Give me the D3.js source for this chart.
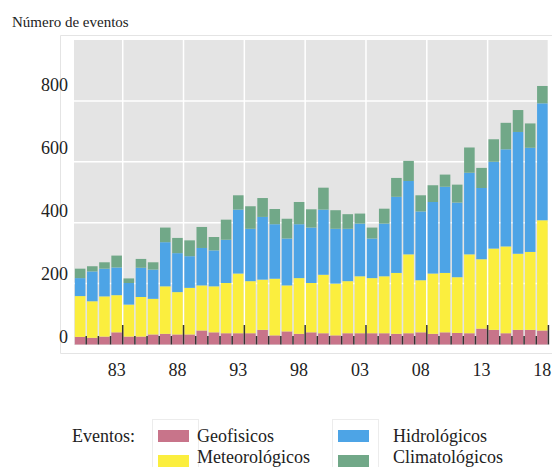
<!DOCTYPE html>
<html>
<head>
<meta charset="utf-8">
<script src="https://cdn.jsdelivr.net/npm/d3@7"></script>
<style>
  body { margin: 0; background: #fff; }
  text { font-family: "Liberation Serif", "DejaVu Serif", serif; fill: #222; }
</style>
</head>
<body>
<svg width="552" height="467"></svg>
<script>
// years on the x axis
var years = d3.range(1980, 2019);

// events per year, by type
var geofisicos = [25, 22, 26, 40, 26, 26, 33, 35, 33, 33,
                  46, 40, 37, 37, 37, 48, 30, 43, 35, 40,
                  37, 30, 37, 37, 37, 37, 35, 37, 40, 35,
                  40, 38, 37, 52, 48, 37, 48, 48, 46];
var meteorologicos = [134, 120, 132, 122, 105, 130, 117, 156, 139, 153,
                      148, 151, 165, 196, 171, 165, 186, 151, 183, 162,
                      192, 170, 171, 187, 181, 187, 200, 259, 171, 198,
                      195, 183, 259, 228, 267, 285, 250, 256, 362];
var hidrologicos = [59, 98, 91, 91, 71, 96, 96, 145, 128, 104,
                    123, 118, 142, 210, 172, 206, 179, 154, 177, 182,
                    214, 180, 172, 173, 130, 173, 250, 241, 226, 235,
                    283, 245, 268, 234, 285, 319, 400, 342, 384];
var climatologicos = [31, 17, 21, 39, 15, 29, 24, 48, 50, 52,
                      69, 44, 66, 47, 74, 62, 50, 65, 73, 60,
                      72, 61, 48, 33, 36, 49, 62, 66, 53, 55,
                      40, 59, 83, 66, 74, 87, 72, 80, 57];

var yTicks = [0, 200, 400, 600, 800];
var xTickYears = [1983, 1988, 1993, 1998, 2003, 2008, 2013, 2018];

var keys = ["geo", "met", "hid", "cli"];
var names = {geo: "Geofisicos", met: "Meteorológicos", hid: "Hidrológicos", cli: "Climatológicos"};
var colors = {geo: "#c8748a", met: "#fbee3e", hid: "#4da4e6", cli: "#71a888"};

var rows = years.map(function(y, i) {
  return {year: y, geo: geofisicos[i], met: meteorologicos[i], hid: hidrologicos[i], cli: climatologicos[i]};
});

var svg = d3.select("svg");

// panel bounds (note: "top" is taken by window.top)
var pLeft = 74, pRight = 549, pTop = 40, pBottom = 345;

var x = d3.scaleBand().domain(years).range([pLeft, 548.5]).paddingInner(0.13).paddingOuter(0.07);
var y = d3.scaleLinear().domain([0, 1000]).range([344.5, pTop]);
// the tick labels in the picture sit a bit above their grid lines
var yLab = d3.scaleLinear().domain([0, 800]).range([337, 85]);

// light outer frame
svg.append("path")
    .attr("d", "M552,35.5H60.5V353.5H552")
    .style("fill", "none")
    .style("stroke", "#e4e4e4");

svg.append("rect")
    .attr("x", pLeft).attr("y", pTop)
    .attr("width", pRight - pLeft).attr("height", pBottom - pTop)
    .style("fill", "#e4e4e4");

// grid
svg.selectAll(".hgrid").data(yTicks.slice(1)).enter().append("line")
    .attr("x1", pLeft).attr("x2", pRight)
    .attr("y1", function(d) {return y(d);})
    .attr("y2", function(d) {return y(d);})
    .style("stroke", "#fff").style("stroke-width", 1.5);

var gap = x.step() - x.bandwidth();
svg.selectAll(".vgrid").data(xTickYears).enter().append("line")
    .attr("x1", function(d) {return x(d) + x.bandwidth() + gap / 2;})
    .attr("x2", function(d) {return x(d) + x.bandwidth() + gap / 2;})
    .attr("y1", pTop).attr("y2", pBottom)
    .style("stroke", "#fff").style("stroke-width", 1.5);

// stacked bars
var series = d3.stack().keys(keys)(rows);
svg.selectAll(".layer").data(series).enter().append("g")
    .style("fill", function(d) {return colors[d.key];})
  .selectAll("rect").data(function(d) {return d;}).enter().append("rect")
    .attr("x", function(d) {return x(d.data.year);})
    .attr("width", x.bandwidth())
    .attr("y", function(d) {return y(d[1]);})
    .attr("height", function(d) {return y(d[0]) - y(d[1]);});

// little black ticks between bars, taller every five years
svg.selectAll(".tick").data(years).enter().append("line")
    .attr("x1", function(d) {return x(d) + x.bandwidth() + gap / 2;})
    .attr("x2", function(d) {return x(d) + x.bandwidth() + gap / 2;})
    .attr("y1", function(d) {return xTickYears.indexOf(d) >= 0 ? 325 : 336;})
    .attr("y2", 344.5)
    .style("stroke", "#333").style("stroke-width", 1.5);

// axes labels
svg.selectAll(".ylab").data(yTicks).enter().append("text")
    .attr("x", 68)
    .attr("y", function(d) {return yLab(d);})
    .attr("dy", "0.35em")
    .style("text-anchor", "end")
    .style("font-size", "18px")
    .text(function(d) {return d;});

svg.selectAll(".xlab").data(xTickYears).enter().append("text")
    .attr("x", function(d) {return x(d) + x.bandwidth() / 2;})
    .attr("y", 376)
    .style("text-anchor", "middle")
    .style("font-size", "18px")
    .text(function(d) {return String(d).slice(2);});

svg.append("text")
    .attr("x", 12).attr("y", 27)
    .style("font-size", "15px")
    .text("Número de eventos");

// legend
svg.append("text")
    .attr("x", 72).attr("y", 442)
    .style("font-size", "18px")
    .text("Eventos:");

var legendCols = [
  {x: 152, keys: ["geo", "met"]},
  {x: 332, keys: ["hid", "cli"]}
];
legendCols.forEach(function(col) {
  svg.append("rect")
      .attr("x", col.x + 0.5).attr("y", 419.5)
      .attr("width", 46).attr("height", 60)
      .style("fill", "none").style("stroke", "#ececec");
  col.keys.forEach(function(k, j) {
    svg.append("rect")
        .attr("x", col.x + 6).attr("y", 430 + j * 25)
        .attr("width", 31).attr("height", 12)
        .style("fill", colors[k]);
    svg.append("text")
        .attr("x", col.x + (col.x > 200 ? 61 : 45)).attr("y", 442 + j * 21)
        .style("font-size", "18px")
        .text(names[k]);
  });
});
</script>
</body>
</html>
